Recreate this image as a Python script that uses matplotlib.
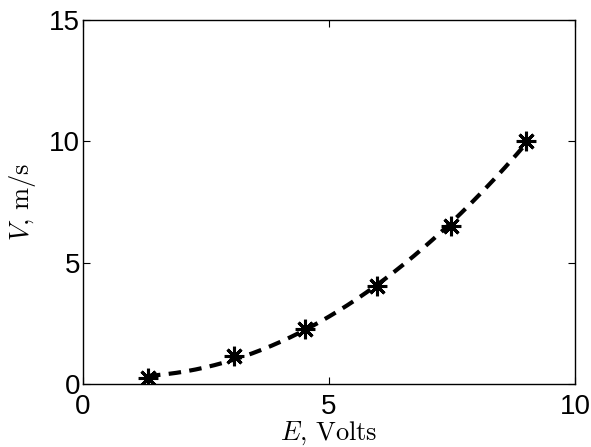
import numpy as np
import matplotlib
matplotlib.use('Agg')
import matplotlib.pyplot as plt

# measured points
E = [1.32, 3.07, 4.51, 5.98, 7.48, 9.0]
V = [0.25, 1.15, 2.27, 4.04, 6.5, 10.0]

plt.rcParams['mathtext.fontset'] = 'cm'
plt.rcParams['font.family'] = ['Liberation Sans', 'DejaVu Sans']

fig = plt.figure(figsize=(5.91, 4.47), dpi=100)
ax = fig.add_axes([0.1404, 0.141, 0.8326, 0.814])

# quadratic fit through the measurements, drawn dashed
c = np.polyfit(E, V, 2)
p = np.poly1d(c)
xf = np.linspace(min(E), max(E), 200)
ax.plot(xf, p(xf), 'k--', lw=3, dashes=(3, 2))
ax.plot(E, V, linestyle='none', marker=(8, 2, 0), ms=14, mew=2.2, color='k')

ax.set_xlim(0, 10)
ax.set_ylim(0, 15)
ax.set_xticks([0, 5, 10])
ax.set_yticks([0, 5, 10, 15])
ax.tick_params(direction='in', length=5, width=0.8, labelsize=20,
               top=True, right=True, pad=2)
ax.tick_params(axis='x', pad=7)
for s in ax.spines.values():
    s.set_linewidth(1.0)

ax.set_xlabel(r'$E,\, \mathrm{Volts}$', fontsize=19, labelpad=0)
ax.set_ylabel(r'$V,\, \mathrm{m/s}$', fontsize=19, labelpad=8)

fig.savefig('out.png', dpi=100)
